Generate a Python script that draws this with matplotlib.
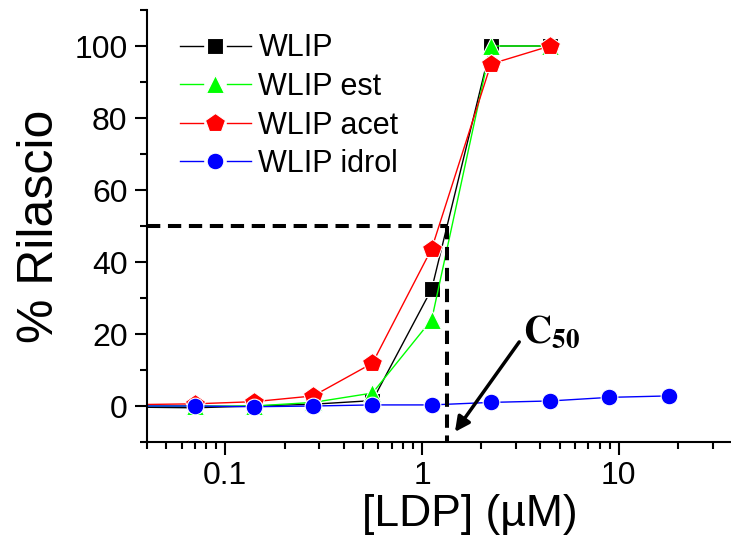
import numpy as np
import matplotlib
matplotlib.use('Agg')
import matplotlib.pyplot as plt
from matplotlib.lines import Line2D
from matplotlib.legend_handler import HandlerLine2D

plt.rcParams['font.family'] = ['Liberation Sans', 'DejaVu Sans']

# concentrations (uM); first point is off-scale blank
conc = [0.01, 0.07, 0.14, 0.28, 0.56, 1.12, 2.24, 4.48]
conc_idrol = [0.01, 0.07, 0.14, 0.28, 0.56, 1.12, 2.24, 4.48, 8.96, 17.92]

wlip = [0, -0.5, 0.0, 0.5, 1.5, 32.5, 100, 100]
wlip_est = [0, 0.0, 0.0, 1.0, 3.6, 24.0, 100, 100]
wlip_acet = [0, 0.6, 1.2, 2.8, 11.9, 43.7, 95, 100]
wlip_idrol = [0, 0.0, -0.2, 0.0, 0.3, 0.3, 1.0, 1.4, 2.4, 2.8]

c50 = 1.34


class GapLine(HandlerLine2D):
    # legend entry: line - marker - line, with a gap round the marker
    def create_artists(self, legend, orig, xdescent, ydescent, width, height,
                       fontsize, trans):
        y = height / 2 - ydescent
        x0 = -xdescent
        seg = width * 0.33
        kw = dict(color=orig.get_color(), lw=orig.get_linewidth())
        left = Line2D([x0, x0 + seg], [y, y], **kw)
        right = Line2D([x0 + width - seg, x0 + width], [y, y], **kw)
        mk = Line2D([x0 + width / 2], [y], ls='none', marker=orig.get_marker(),
                    ms=orig.get_markersize(), color=orig.get_color(),
                    mec=orig.get_markeredgecolor(), mew=orig.get_markeredgewidth())
        for a in (left, right, mk):
            a.set_transform(trans)
        return [left, right, mk]


fig = plt.figure(figsize=(7.31, 5.40), dpi=100)
ax = fig.add_axes([147 / 731, 98 / 540, 584 / 731, 432 / 540])

mk = dict(lw=1, mec='white', mew=0.8)
ax.plot(conc, wlip, '-s', color='black', ms=11.5, label='WLIP', **mk)
ax.plot(conc, wlip_est, '-^', color='#00ff00', ms=13, label='WLIP est', **mk)
ax.plot(conc, wlip_acet, '-p', color='red', ms=14.5, label='WLIP acet', **mk)
ax.plot(conc_idrol, wlip_idrol, '-o', color='blue', ms=12, label='WLIP idrol', **mk)

# C50 guide lines
dash = dict(color='black', lw=2.9, dashes=(3.3, 1.9))
ax.plot([0.04, c50], [50, 50], **dash)
ax.plot([c50, c50], [50, -10], **dash)

ax.annotate('', xy=(1.47, -7.2), xytext=(3.12, 17.8),
            arrowprops=dict(arrowstyle='-|>', color='black', lw=2.5,
                            mutation_scale=22, shrinkA=0, shrinkB=0))
ax.text(3.27, 17.5, r'$\mathbf{C_{50}}$', fontsize=28, math_fontfamily='stix',
        va='baseline', ha='left')

ax.set_xscale('log')
ax.set_xlim(0.04, 37.2)
ax.set_ylim(-10, 110)
ax.set_yticks([0, 20, 40, 60, 80, 100])
ax.set_yticks(np.arange(-10, 111, 10), minor=True)
ax.set_xticks([0.1, 1, 10])
ax.set_xticklabels(['0.1', '1', '10'])

for s in ['top', 'right']:
    ax.spines[s].set_visible(False)
for s in ['left', 'bottom']:
    ax.spines[s].set_linewidth(1.5)
ax.tick_params(which='major', length=9, width=1.5, labelsize=23, pad=5)
ax.tick_params(which='minor', length=5, width=1.5)

ax.set_xlabel('[LDP] (µM)', fontsize=32, labelpad=2)
ax.xaxis.label.set_x(0.553)
ax.set_ylabel('% Rilascio', fontsize=36, labelpad=8)

ax.legend(loc='upper left', bbox_to_anchor=(0.036, 0.974), frameon=False,
          fontsize=22, numpoints=1, handlelength=2.3, handletextpad=0.26,
          labelspacing=0.28, borderaxespad=0,
          handler_map={Line2D: GapLine()})

fig.savefig('out.png')
